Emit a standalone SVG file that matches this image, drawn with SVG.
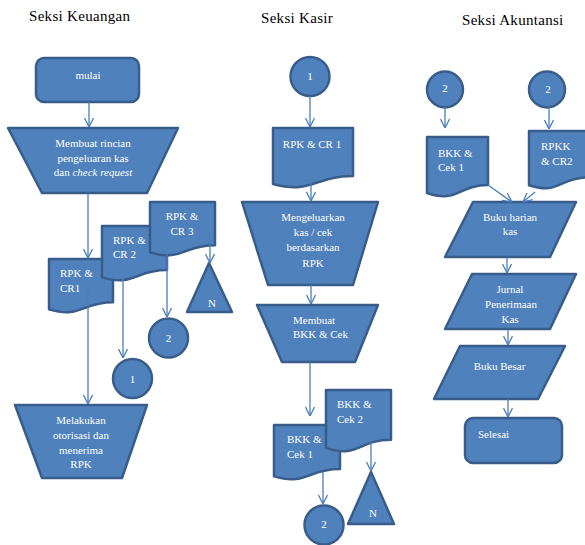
<svg xmlns="http://www.w3.org/2000/svg" width="585" height="545" viewBox="0 0 585 545">
<style>
text{font-family:'Liberation Serif', serif}
.sh{fill:#4F81BD;stroke:#385D8A;stroke-width:2.5;stroke-linejoin:round}
.t{font-size:11px;fill:#FFFFFF}
.c{text-anchor:middle}
.title{font-size:15px;fill:#000000;letter-spacing:0.3px}
.ln{stroke:#4A7EBB;stroke-width:1.3;fill:none;marker-end:url(#arr)}
</style>
<defs>
<marker id="arr" viewBox="0 0 10 10" refX="10" refY="5" markerWidth="10" markerHeight="10" markerUnits="userSpaceOnUse" orient="auto">
<path d="M1,0.5 L10,5 L1,9.5" fill="none" stroke="#4A7EBB" stroke-width="1.3"/>
</marker>
</defs>
<rect width="585" height="545" fill="#FFFFFF"/>
<g id="titles">
<text class="title" x="29" y="21">Seksi Keuangan</text>
<text class="title" x="261" y="23">Seksi Kasir</text>
<text class="title" x="462" y="25">Seksi Akuntansi</text>
</g>
<g id="mulai"><rect class="sh" x="36" y="58" width="103" height="44" rx="8"/><text class="t c" x="88" y="79">mulai</text></g>
<g id="membuat-rincian"><polygon class="sh" points="8,128 178,128 147,193 42,193"/>
<text class="t c" x="93" y="147">Membuat rincian</text><text class="t c" x="93" y="162">pengeluaran kas</text><text class="t c" x="93" y="176">dan <tspan font-style="italic">check request</tspan></text></g>
<g id="k-rpk-cr1"><path class="sh" d="M49,259 H113 V302.3 C81,302.3 81,318.8 49,309.4 Z"/><text class="t" x="60" y="277">RPK &amp;</text><text class="t" x="60" y="292">CR1</text></g>
<g id="k-rpk-cr2"><path class="sh" d="M102,226 H167 V270.1 C134.5,270.1 134.5,286.9 102,277.4 Z"/><text class="t" x="113" y="244">RPK &amp;</text><text class="t" x="113" y="258">CR 2</text></g>
<g id="k-rpk-cr3"><path class="sh" d="M150,202 H215 V245.3 C182.5,245.3 182.5,261.8 150,252.4 Z"/><text class="t c" x="182" y="220">RPK &amp;</text><text class="t c" x="182" y="235">CR 3</text></g>
<g id="k-arsip-n"><polygon class="sh" points="209,263 232,312 187,312"/><text class="t c" x="212" y="307">N</text></g>
<g id="k-con-2"><circle class="sh" cx="168.5" cy="338" r="19.5"/><text class="t c" x="168.5" y="342">2</text></g>
<g id="k-con-1"><circle class="sh" cx="132.5" cy="378.5" r="19.5"/><text class="t c" x="132.5" y="383">1</text></g>
<g id="melakukan-otorisasi"><polygon class="sh" points="15,405 147,405 122,478 42,478"/>
<text class="t c" x="81" y="424">Melakukan</text><text class="t c" x="81" y="439">otorisasi dan</text><text class="t c" x="81" y="454">menerima</text><text class="t c" x="81" y="468">RPK</text></g>

<g id="s-con-1"><circle class="sh" cx="310" cy="76.5" r="19.5"/><text class="t c" x="310" y="80">1</text></g>
<g id="s-rpk-cr1"><path class="sh" d="M273,128 H353 V176.1 C313,176.1 313,194.5 273,184 Z"/><text class="t c" x="312" y="148">RPK &amp; CR 1</text></g>
<g id="mengeluarkan-kas"><polygon class="sh" points="242,202 378,202 353,285 268,285"/>
<text class="t c" x="313" y="221">Mengeluarkan</text><text class="t c" x="313" y="236">kas / cek</text><text class="t c" x="313" y="251">berdasarkan</text><text class="t c" x="313" y="267">RPK</text></g>
<g id="membuat-bkk"><polygon class="sh" points="257,305 378,305 355,362 282,362"/><text class="t" x="293" y="324">Membuat</text><text class="t" x="293" y="338">BKK &amp; Cek</text></g>
<g id="s-bkk-cek1"><path class="sh" d="M274,425 H340 V469.1 C307,469.1 307,485.9 274,476.4 Z"/><text class="t" x="287" y="443">BKK &amp;</text><text class="t" x="287" y="458">Cek 1</text></g>
<g id="s-bkk-cek2"><path class="sh" d="M326,390 H391 V439.7 C358.5,439.7 358.5,458.7 326,447.9 Z"/><text class="t" x="337" y="408">BKK &amp;</text><text class="t" x="337" y="423">Cek 2</text></g>
<g id="s-con-2"><circle class="sh" cx="324" cy="525" r="19.5"/><text class="t c" x="324" y="528">2</text></g>
<g id="s-arsip-n"><polygon class="sh" points="371,472 394,524 348,524"/><text class="t c" x="373" y="517">N</text></g>

<g id="a-con-2a"><circle class="sh" cx="445" cy="89.5" r="18"/><text class="t c" x="445" y="92">2</text></g>
<g id="a-con-2b"><circle class="sh" cx="547" cy="89.5" r="18"/><text class="t c" x="548" y="93">2</text></g>
<g id="a-bkk-cek1"><path class="sh" d="M427,137 H488 V185.1 C457.5,185.1 457.5,203.5 427,193 Z"/><text class="t" x="438" y="157">BKK &amp;</text><text class="t" x="438" y="171">Cek 1</text></g>
<g id="a-rpkk-cr2"><path class="sh" d="M529,131 H589 V177.5 C559,177.5 559,195.2 529,185.2 Z"/><text class="t" x="541" y="150">RPKK</text><text class="t" x="541" y="165">&amp; CR2</text></g>
<g id="buku-harian"><polygon class="sh" points="473,202 576,202 550,257 445,257"/><text class="t c" x="510" y="221">Buku harian</text><text class="t c" x="510" y="235">kas</text></g>
<g id="jurnal"><polygon class="sh" points="472,274 576,274 550,329 445,329"/><text class="t c" x="510" y="293">Jurnal</text><text class="t c" x="511" y="308">Penerimaan</text><text class="t c" x="510" y="323">Kas</text></g>
<g id="buku-besar"><polygon class="sh" points="460,346 565,346 538,399 434,399"/><text class="t c" x="499.5" y="370">Buku Besar</text></g>
<g id="selesai"><rect class="sh" x="465" y="418" width="97" height="45" rx="8"/><text class="t" x="478" y="438">Selesai</text></g>

<g id="connectors">
<line class="ln" x1="89" y1="102" x2="89" y2="127"/>
<line class="ln" x1="88" y1="193" x2="88" y2="258"/>
<line class="ln" x1="88" y1="287" x2="88" y2="404"/>
<line class="ln" x1="123" y1="279" x2="123" y2="358"/>
<line class="ln" x1="167" y1="254" x2="167" y2="317"/>
<line class="ln" x1="210" y1="232" x2="210" y2="263"/>
<line class="ln" x1="310" y1="96" x2="310" y2="127"/>
<line class="ln" x1="311" y1="181" x2="311" y2="201"/>
<line class="ln" x1="311" y1="285" x2="311" y2="304"/>
<line class="ln" x1="310" y1="362" x2="310" y2="416"/>
<line class="ln" x1="323" y1="472" x2="323" y2="504"/>
<line class="ln" x1="371" y1="442" x2="371" y2="471"/>
<line class="ln" x1="445" y1="107" x2="445" y2="128"/>
<line class="ln" x1="549" y1="107" x2="549" y2="129"/>
<line class="ln" x1="488" y1="185" x2="512" y2="202"/>
<line class="ln" x1="535" y1="192" x2="523" y2="202"/>
<line class="ln" x1="507" y1="257" x2="507" y2="273"/>
<line class="ln" x1="508" y1="329" x2="508" y2="345"/>
<line class="ln" x1="508" y1="399" x2="508" y2="417"/>
</g>
</svg>
